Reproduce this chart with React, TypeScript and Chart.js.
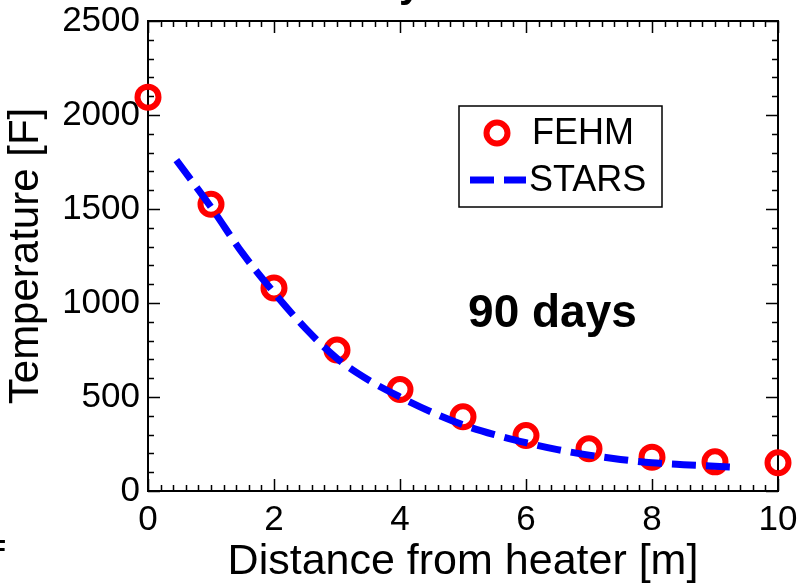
import React, { useEffect, useRef } from "react";
import { Chart, registerables } from "chart.js";

Chart.register(...registerables);

// ---- data ----
const fehmX = [0, 1, 2, 3, 4, 5, 6, 7, 8, 9, 10];
const fehmY = [2095, 1525, 1080, 750, 540, 395, 295, 225, 180, 155, 150];

const starsX = [0.45, 1, 1.5, 2, 2.5, 3, 3.5, 4, 4.5, 5, 5.5, 6, 6.5, 7, 7.5, 8, 8.5, 9, 9.35];
const starsY = [1760, 1510, 1265, 1055, 865, 705, 590, 500, 420, 352, 300, 257, 220, 191, 168, 150, 140, 132, 125];

const xTickLabels = ["0", "2", "4", "6", "8", "10"];
const yTickLabels = ["0", "500", "1000", "1500", "2000", "2500"];

const seriesNames = ["FEHM", "STARS"];
const annotationText = "90 days";
const annotationAt = { x: 6.42, y: 870 };
const xTitle = "Distance from heater [m]";
const yTitle = "Temperature [F]";

const FONT = "'Liberation Sans', Arial, Helvetica, sans-serif";

const boxPlugin = {
  id: "matlabBox",
  beforeDatasetsDraw(chart: any) {
    const { ctx, chartArea } = chart;
    const { left, right, top, bottom } = chartArea;
    const xs = chart.scales.x;
    const ys = chart.scales.y;
    ctx.save();
    ctx.strokeStyle = "#000";
    ctx.lineWidth = 1.5;
    const major = 12;
    const minor = 6;
    ctx.beginPath();
    for (let i = 0; i <= 50; i++) {
      const v = i / 5;
      const px = Math.round(xs.getPixelForValue(v)) + 0.5;
      const len = i % 10 === 0 ? major : minor;
      ctx.moveTo(px, bottom);
      ctx.lineTo(px, bottom - len);
      ctx.moveTo(px, top);
      ctx.lineTo(px, top + len);
    }
    for (let i = 0; i <= 25; i++) {
      const v = i * 100;
      const py = Math.round(ys.getPixelForValue(v)) + 0.5;
      const len = i % 5 === 0 ? major : minor;
      ctx.moveTo(left, py);
      ctx.lineTo(left + len, py);
      ctx.moveTo(right, py);
      ctx.lineTo(right - len, py);
    }
    ctx.stroke();
    ctx.lineWidth = 2;
    ctx.strokeRect(left, top, right - left, bottom - top);
    ctx.restore();
  },
  afterDatasetsDraw(chart: any) {
    const { ctx } = chart;
    const xs = chart.scales.x;
    const ys = chart.scales.y;
    ctx.save();
    // annotation
    ctx.fillStyle = "#000";
    ctx.font = `bold 46px ${FONT}`;
    ctx.textAlign = "center";
    ctx.textBaseline = "alphabetic";
    ctx.fillText(annotationText, xs.getPixelForValue(annotationAt.x), ys.getPixelForValue(annotationAt.y));

    // legend
    const bx = 459, by = 106, bw = 203, bh = 101;
    ctx.fillStyle = "#fff";
    ctx.fillRect(bx, by, bw, bh);
    ctx.strokeStyle = "#000";
    ctx.lineWidth = 1.5;
    ctx.strokeRect(bx, by, bw, bh);
    const ds0 = chart.data.datasets[0];
    const ds1 = chart.data.datasets[1];
    ctx.beginPath();
    ctx.arc(497, 133, ds0.pointRadius, 0, Math.PI * 2);
    ctx.strokeStyle = ds0.borderColor;
    ctx.lineWidth = ds0.borderWidth;
    ctx.stroke();
    ctx.beginPath();
    ctx.setLineDash(ds1.borderDash);
    ctx.strokeStyle = ds1.borderColor;
    ctx.lineWidth = ds1.borderWidth;
    ctx.lineCap = "butt";
    ctx.moveTo(470, 180);
    ctx.lineTo(526, 180);
    ctx.stroke();
    ctx.setLineDash([]);
    ctx.fillStyle = "#000";
    ctx.font = `36px ${FONT}`;
    ctx.textAlign = "left";
    ctx.textBaseline = "middle";
    ctx.fillText(ds0.label, 532, 134);
    ctx.fillText(ds1.label, 529, 181);

    // clipped fragments from neighbouring panels
    ctx.font = `bold 40px ${FONT}`;
    ctx.textAlign = "center";
    ctx.textBaseline = "alphabetic";
    ctx.fillText("y", 410, -3);
    ctx.font = `bold 26px ${FONT}`;
    ctx.textAlign = "right";
    ctx.fillText("F", 6, 558);
    ctx.restore();
  },
};

export default function App() {
  const ref = useRef<HTMLCanvasElement | null>(null);
  useEffect(() => {
    if (!ref.current) return;
    const chart = new Chart(ref.current, {
      type: "scatter",
      data: {
        datasets: [
          {
            label: seriesNames[0],
            data: fehmX.map((x, i) => ({ x, y: fehmY[i] })),
            showLine: false,
            pointRadius: 10.5,
            pointHoverRadius: 10.5,
            borderColor: "#ff0000",
            backgroundColor: "rgba(0,0,0,0)",
            borderWidth: 6,
            pointBorderWidth: 6,
            clip: false,
            order: 1,
          } as any,
          {
            label: seriesNames[1],
            data: starsX.map((x, i) => ({ x, y: starsY[i] })),
            showLine: true,
            pointRadius: 0,
            borderColor: "#0000ff",
            backgroundColor: "#0000ff",
            borderWidth: 7,
            borderDash: [24, 10],
            borderCapStyle: "butt",
            cubicInterpolationMode: "monotone",
            clip: false,
            order: 0,
          } as any,
        ],
      },
      options: {
        animation: false,
        responsive: true,
        maintainAspectRatio: false,
        layout: { padding: { left: 0, right: 30, top: 21, bottom: 0 } },
        plugins: { legend: { display: false }, tooltip: { enabled: false } },
        scales: {
          x: {
            type: "linear",
            min: 0,
            max: 10,
            afterFit: (s: any) => { s.height = 93; },
            grid: { display: false, drawTicks: false },
            border: { display: false },
            ticks: {
              stepSize: 2,
              padding: 8,
              color: "#000",
              maxRotation: 0,
              font: { family: FONT, size: 35, lineHeight: 1.2 },
              callback: (v: any) => xTickLabels[Math.round(Number(v) / 2)] ?? "",
            },
            title: {
              display: true,
              text: xTitle,
              color: "#000",
              font: { family: FONT, size: 43, lineHeight: 1.0 },
              padding: { top: 2, bottom: 0 },
            },
          },
          y: {
            type: "linear",
            min: 0,
            max: 2500,
            afterFit: (s: any) => { s.width = 148; s.paddingTop = 0; s.paddingBottom = 0; },
            grid: { display: false, drawTicks: false },
            border: { display: false },
            ticks: {
              stepSize: 500,
              padding: 8,
              color: "#000",
              font: { family: FONT, size: 35, lineHeight: 0.8 },
              callback: (v: any) => yTickLabels[Math.round(Number(v) / 500)] ?? "",
            },
            title: {
              display: true,
              text: yTitle,
              color: "#000",
              font: { family: FONT, size: 42, lineHeight: 1.0 },
              padding: { top: 5, bottom: 0 },
            },
          },
        },
      },
      plugins: [boxPlugin],
    });
    return () => chart.destroy();
  }, []);
  return (
    <div style={{ position: "absolute", left: 0, top: 0, width: 808, height: 584, background: "#fff" }}>
      <canvas ref={ref} />
    </div>
  );
}
